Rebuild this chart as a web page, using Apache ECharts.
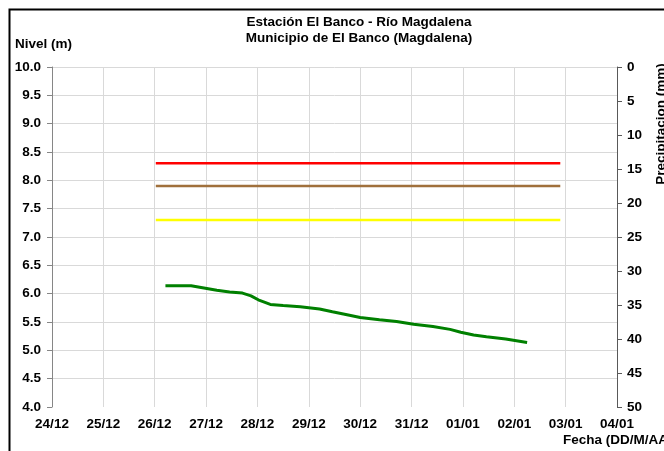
<!DOCTYPE html>
<html>
<head>
<meta charset="utf-8">
<script src="https://cdn.jsdelivr.net/npm/echarts@6/dist/echarts.min.js"></script>
<style>
  html, body { margin: 0; padding: 0; background: #fff; }
  #chart { width: 664px; height: 451px; }
</style>
</head>
<body>
<div id="chart"></div>
<script>
// eje X: días
const inicio = '2023-12-24T00:00';
const etiquetasX = ['24/12', '25/12', '26/12', '27/12', '28/12', '29/12', '30/12', '31/12', '01/01', '02/01', '03/01', '04/01'];

// nivel observado (m)
const fechasNivel = [
  '2023-12-26T05:00', '2023-12-26T17:00', '2023-12-27T05:00', '2023-12-27T11:00',
  '2023-12-27T17:00', '2023-12-27T21:00', '2023-12-28T01:00', '2023-12-28T06:00',
  '2023-12-28T12:00', '2023-12-28T20:00', '2023-12-29T05:00', '2023-12-29T11:00',
  '2023-12-29T19:00', '2023-12-30T00:00', '2023-12-30T09:00', '2023-12-30T17:00',
  '2023-12-31T01:00', '2023-12-31T10:00', '2023-12-31T18:00', '2023-12-31T23:00',
  '2024-01-01T05:00', '2024-01-01T11:00', '2024-01-01T20:00', '2024-01-02T06:00'
];
const nivel = [
  6.14, 6.14, 6.06, 6.03,
  6.01, 5.96, 5.88, 5.81,
  5.79, 5.77, 5.73, 5.68,
  5.62, 5.58, 5.54, 5.51,
  5.46, 5.42, 5.37, 5.32,
  5.27, 5.24, 5.20, 5.14
];

// umbrales
const umbralInicio = '2023-12-26T00:30';
const umbralFin = '2024-01-02T21:30';
const umbralRojo = 8.3;
const umbralCafe = 7.9;
const umbralAmarillo = 7.3;

const t0 = Date.parse(inicio);
const dia = t => (Date.parse(t) - t0) / 86400000;

const umbral = (v, color, w) => ({
  type: 'line', yAxisIndex: 0, symbol: 'none', silent: true,
  lineStyle: { color: color, width: w },
  data: [[dia(umbralInicio), v], [dia(umbralFin), v]]
});

const font = '"Liberation Sans", Arial, sans-serif';
const fs = 13.5;
const chart = echarts.init(document.getElementById('chart'));
chart.setOption({
  animation: false,
  textStyle: { fontFamily: font },
  title: {
    text: 'Estación El Banco - Río Magdalena\nMunicipio de El Banco (Magdalena)',
    left: 359, top: 14, textAlign: 'center', padding: 0,
    textStyle: { fontFamily: font, fontSize: fs, fontWeight: 'bold', color: '#000', lineHeight: 16 }
  },
  grid: { left: 52, right: 47, top: 67, bottom: 44 },
  xAxis: {
    type: 'value', min: 0, max: 11, interval: 1,
    axisLine: { show: false },
    axisTick: { show: false },
    axisLabel: {
      formatter: v => etiquetasX[Math.round(v)] || '',
      color: '#000', fontSize: fs, fontWeight: 'bold', fontFamily: font, margin: 10
    },
    splitLine: { show: true, lineStyle: { color: '#d9d9d9', width: 1 } }
  },
  yAxis: [{
    type: 'value', min: 4, max: 10, interval: 0.5, position: 'left',
    axisLine: { show: true, lineStyle: { color: '#868686', width: 1 } },
    axisTick: { show: true, length: 5, lineStyle: { color: '#868686' } },
    axisLabel: {
      formatter: v => v.toFixed(1),
      color: '#000', fontSize: fs, fontWeight: 'bold', fontFamily: font, margin: 11
    },
    splitLine: { show: true, showMinLine: false, lineStyle: { color: '#d9d9d9', width: 1 } }
  }, {
    type: 'value', min: 0, max: 50, interval: 5, position: 'right', inverse: true,
    axisLine: { show: true, lineStyle: { color: '#595959', width: 1 } },
    axisTick: { show: true, length: 5, lineStyle: { color: '#595959' } },
    axisLabel: { color: '#000', fontSize: fs, fontWeight: 'bold', fontFamily: font, margin: 10 },
    splitLine: { show: false }
  }],
  graphic: [
    { type: 'polyline', silent: true,
      shape: { points: [[9.5, 451], [9.5, 9.5], [664, 9.5]] },
      style: { stroke: '#000', lineWidth: 2, fill: null } },
    { type: 'text', left: 15, top: 37,
      style: { text: 'Nivel (m)', fill: '#000', font: 'bold ' + fs + 'px ' + font } },
    { type: 'text', x: 661, y: 124, rotation: Math.PI / 2,
      style: { text: 'Precipitacion (mm)', fill: '#000', font: 'bold ' + fs + 'px ' + font, align: 'center', verticalAlign: 'middle' } },
    { type: 'text', x: 563, y: 440,
      style: { text: 'Fecha (DD/M/AA)', fill: '#000', font: 'bold ' + fs + 'px ' + font, verticalAlign: 'middle' } }
  ],
  series: [
    umbral(umbralRojo, '#ff0000', 2.5),
    umbral(umbralCafe, '#a0703c', 2.5),
    umbral(umbralAmarillo, '#ffff00', 2.5),
    {
      type: 'line', yAxisIndex: 0, symbol: 'none',
      lineStyle: { color: '#008000', width: 3 },
      data: fechasNivel.map((t, i) => [dia(t), nivel[i]])
    }
  ]
});
</script>
</body>
</html>
